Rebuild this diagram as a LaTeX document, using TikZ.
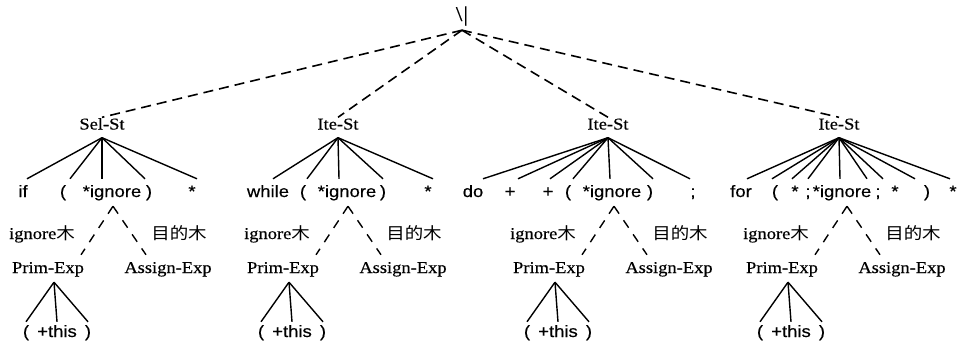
\documentclass[tikz,border=0pt]{standalone}
\usepackage{fontspec}
\usepackage{tikz}
\setmainfont{Liberation Serif}[FakeStretch=1.12, FakeBold=0.4]
\setsansfont{Liberation Sans}[FakeStretch=1.12, FakeBold=0.4]
\newfontfamily\cjk{Noto Sans CJK SC}[FakeStretch=1.12]
\newcommand{\pssize}{\fontsize{16.5}{19}\selectfont}
\tikzset{
  psroot/.style={font=\fontsize{21}{24}\selectfont, anchor=base, inner sep=1pt, text depth=8pt},
  pscat/.style={font=\pssize, anchor=base, inner sep=1pt, text height=11pt, text depth=7pt},
  psexp/.style={font=\pssize, anchor=base, inner sep=1pt, text height=17pt, text depth=8pt},
  pslab/.style={font=\pssize, anchor=base, inner sep=1pt},
  pstok/.style={font=\sffamily\pssize, anchor=base, inner sep=1pt, text height=17pt, text depth=8pt},
  psleaf/.style={font=\sffamily\pssize, anchor=base, inner sep=1pt, text height=14pt, text depth=4pt},
  psbranch/.style={line width=1.4pt},
  psdash/.style={line width=1.6pt, dash pattern=on 10pt off 6pt},
  pssubdash/.style={line width=1.4pt, dash pattern=on 9pt off 8pt}
}
% lower part under *ignore: #1 = tree prefix, #2 = x of the split point
\newcommand{\psignore}[2]{%
  \coordinate (#1c) at (#2,0);
  \node[psexp] (#1p) at ({#2-65},273) {Prim-Exp};
  \node[psexp] (#1q) at ({#2+55},273) {Assign-Exp};
  \node[pslab] (#1l) at ({#2-71},239) {ignore{\cjk 木}};
  \node[pslab] (#1m) at ({#2+66},239) {{\cjk 目的木}};
  \draw[pssubdash] (#1i.south -| #1c) -- ([xshift=33pt]#1p.north);
  \draw[pssubdash] (#1i.south -| #1c) -- ([xshift=-22pt]#1q.north);
  \node[psleaf] (#1x) at ({#2-87},337) {(};
  \node[psleaf] (#1y) at ({#2-56},337) {+this};
  \node[psleaf] (#1z) at ({#2-25},337) {)};
  \foreach \k in {x,y,z} \draw[psbranch] ([xshift=6pt]#1p.south) -- (#1\k.north);
}

\begin{document}
\begin{tikzpicture}[x=1pt, y=-1pt]
  \useasboundingbox (0,0) rectangle (959,346);
  \node[psroot] (r) at (462,21) {\textbackslash\kern1pt|};
  \node[pscat] (s1) at (102,129.5) {Sel-St};
  \node[pscat] (s2) at (338,129.5) {Ite-St};
  \node[pscat] (s3) at (608,129.5) {Ite-St};
  \node[pscat] (s4) at (839,129.5) {Ite-St};
  \foreach \s in {s1,s2,s3,s4} \draw[psdash] (r.south) -- (\s.north);
  % tokens: name / x / shift of the line end / text
  \foreach \n/\x/\d/\t in {a/23/4/if, b/63/7/{(}, i/112/-10/*ignore, c/149/-4/{)}, d/192/5/*} {
    \node[pstok] (t1\n) at (\x,197) {\t};
    \draw[psbranch] (s1.south) -- ([xshift=\d pt]t1\n.north);
  }
  \foreach \n/\x/\d/\t in {a/268/5/while, b/303/4/{(}, i/347/-8/*ignore, c/383/0/{)}, d/428/5/*} {
    \node[pstok] (t2\n) at (\x,197) {\t};
    \draw[psbranch] (s2.south) -- ([xshift=\d pt]t2\n.north);
  }
  \foreach \n/\x/\d/\t in {a/473/10/do, b/510/8/+, c/548/2/+, d/568/5/{(}, i/612/-2/*ignore, e/650/3/{)}, f/693/-3/{;}} {
    \node[pstok] (t3\n) at (\x,197) {\t};
    \draw[psbranch] (s3.south) -- ([xshift=\d pt]t3\n.north);
  }
  \foreach \n/\x/\d/\t in {a/741/6/for, b/775/-3/{(}, c/795/-3/*, d/808/0/{;}, i/842/-2/*ignore, e/878/-11/{;}, f/895/-12/*, g/927/-12/{)}, h/953/-3/*} {
    \node[pstok] (t4\n) at (\x,197) {\t};
    \draw[psbranch] (s4.south) -- ([xshift=\d pt]t4\n.north);
  }
  \psignore{t1}{113}
  \psignore{t2}{348}
  \psignore{t3}{614}
  \psignore{t4}{847}
\end{tikzpicture}
\end{document}
